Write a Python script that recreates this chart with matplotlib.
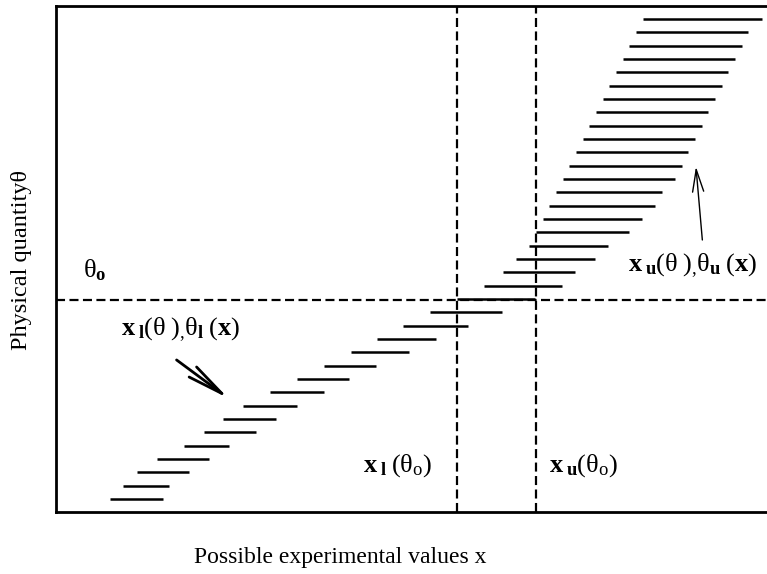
import matplotlib
matplotlib.use("Agg")
import matplotlib.pyplot as plt
from matplotlib.patches import FancyArrowPatch

plt.rcParams['font.family'] = ['Liberation Serif', 'DejaVu Serif']
plt.rcParams['mathtext.fontset'] = 'custom'
plt.rcParams['mathtext.rm'] = 'Liberation Serif'
plt.rcParams['mathtext.bf'] = 'Liberation Serif:bold'
plt.rcParams['mathtext.it'] = 'Liberation Serif:italic'
plt.rcParams['lines.scale_dashes'] = False

# Confidence belt: each theta level has an acceptance interval [x_lower, x_upper]
theta_levels = [1, 2, 3, 4, 5, 6, 7, 8, 9, 10, 11, 12, 13, 14, 15, 16, 17, 18, 19,
                20, 21, 22, 23, 24, 25, 26, 27, 28, 29, 30, 31, 32, 33, 34, 35, 36, 37]
x_lower = [7.6, 9.4, 11.4, 14.2, 17.9, 20.7, 23.5, 26.3, 30.1, 33.9, 37.6, 41.4,
           45.1, 48.8, 52.6, 56.4, 60.1, 62.9, 64.7, 66.5, 67.5, 68.5, 69.3, 70.3,
           71.3, 72.2, 73.1, 74.1, 75.0, 75.9, 76.9, 77.8, 78.8, 79.7, 80.6, 81.6, 82.5]
x_upper = [15.0, 15.9, 18.7, 21.5, 24.3, 28.1, 30.9, 33.8, 37.6, 41.2, 45.0, 49.6,
           53.4, 57.9, 62.7, 67.4, 71.2, 73.0, 75.8, 77.6, 80.6, 82.4, 84.2, 85.2,
           87.1, 88.0, 88.9, 89.9, 90.9, 91.7, 92.7, 93.7, 94.5, 95.5, 96.5, 97.3, 99.3]

theta0 = 15.95
x_l_theta0 = 56.3
x_u_theta0 = 67.5

fig = plt.figure(figsize=(7.67, 5.74), dpi=100)
ax = fig.add_axes([56.5 / 767, 0.1075, 1 - 56.5 / 767, 0.8824])
ax.set_xlim(0, 100)
ax.set_ylim(0, 38)
ax.set_xticks([])
ax.set_yticks([])
for s in ['left', 'top', 'bottom']:
    ax.spines[s].set_linewidth(2.0)
ax.spines['right'].set_visible(False)

ax.hlines(theta_levels, x_lower, x_upper, colors='black', linewidth=1.8, zorder=3)

dash = (6.5, 3.2)
ax.axhline(theta0, color='black', linewidth=1.6, linestyle=(0, dash), zorder=2)
ax.axvline(x_l_theta0, color='black', linewidth=1.6, linestyle=(0, dash), zorder=2)
ax.axvline(x_u_theta0, color='black', linewidth=1.6, linestyle=(0, dash), zorder=2)

fs = 19
ax.text(9.1, 13.7, r"$\mathbf{x}_{\;\mathbf{l}}\mathrm{(\theta\;)}_{,}\mathrm{\theta}_{\mathbf{l}}\;\mathrm{(}\mathbf{x}\mathrm{)}$",
        fontsize=fs, ha='left', va='center')
ax.text(80.5, 18.5, r"$\mathbf{x}_{\;\mathbf{u}}\mathrm{(\theta\;)}_{,}\mathrm{\theta}_{\mathbf{u}}\;\mathrm{(}\mathbf{x}\mathrm{)}$",
        fontsize=fs, ha='left', va='center')
ax.text(43.1, 3.5, r"$\mathbf{x}_{\;\mathbf{l}}\;\mathrm{(\theta_{o})}$",
        fontsize=fs, ha='left', va='center')
ax.text(69.3, 3.5, r"$\mathbf{x}_{\;\mathbf{u}}\mathrm{(\theta_{o})}$",
        fontsize=fs, ha='left', va='center')
ax.text(3.8, 18.2, r"$\mathrm{\theta}_{\mathbf{o}}$", fontsize=fs, ha='left', va='center')

a1 = FancyArrowPatch((16.9, 11.43), (24.2, 8.55), arrowstyle='->,head_length=2.6,head_width=0.45',
                     mutation_scale=10, color='black', linewidth=2.0, shrinkA=0, shrinkB=0)
ax.add_patch(a1)
a2 = FancyArrowPatch((90.9, 20.43), (90.0, 25.93), arrowstyle='->,head_length=1.6,head_width=0.4',
                     mutation_scale=10, color='black', linewidth=1.0, shrinkA=0, shrinkB=0)
ax.add_patch(a2)

fig.text(340 / 767, 1 - 557 / 574, "Possible experimental values x", fontsize=17,
         ha='center', va='center')
fig.text(22 / 767, 1 - 260 / 574, "Physical quantity\u03b8", fontsize=17.5, rotation=90,
         ha='center', va='center')

fig.savefig("out.png", dpi=100)
